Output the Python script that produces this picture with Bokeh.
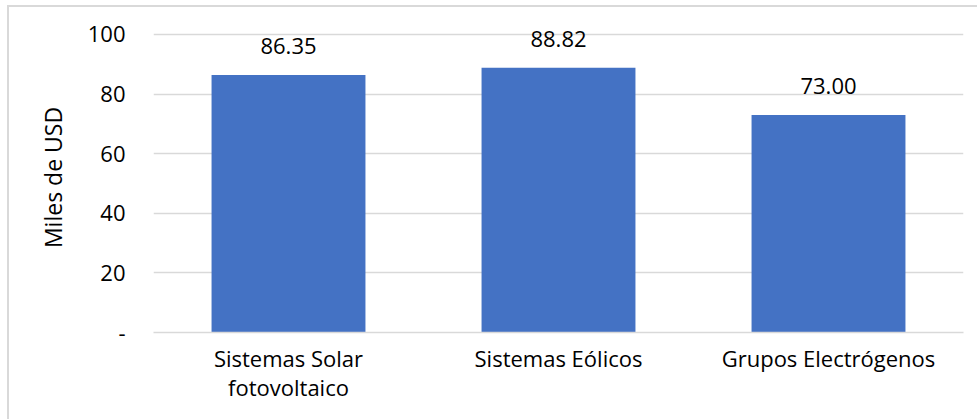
from bokeh.plotting import figure
from bokeh.models import ColumnDataSource, FixedTicker, Range1d
from bokeh.core.properties import value
from bokeh.embed import file_html
from bokeh.resources import INLINE

categories = ["Sistemas Solar\nfotovoltaico", "Sistemas Eólicos", "Grupos Electrógenos"]
values = [86.35, 88.82, 73.00]
labels = ["86.35", "88.82", "73.00"]
y_ticks = [0, 20, 40, 60, 80, 100]

FONT = "Open Sans"
FS = "22px"

src = ColumnDataSource(dict(cat=categories, val=values, lab=labels))

p = figure(x_range=categories, y_range=Range1d(0, 104), width=970, height=414,
           output_backend="svg", toolbar_location=None, tools="",
           min_border_left=144, min_border_right=16, min_border_top=15, min_border_bottom=89)
p.margin = (5, 0, 0, 7)
p.styles = {"border-top": "2px solid #d9d9d9", "border-left": "2px solid #d9d9d9", "box-sizing": "border-box"}
p.outline_line_color = None
p.background_fill_color = "white"
p.border_fill_color = "white"

p.vbar(x="cat", top="val", width=0.57, source=src, fill_color="#4472C4", line_color=None)
p.text(x="cat", y="val", text="lab", source=src, text_align="center", text_baseline="alphabetic",
       y_offset=-29, text_font=value(FONT), text_font_size=FS, text_color="#000000")

p.xgrid.grid_line_color = None
p.ygrid.grid_line_color = "#d9d9d9"
p.ygrid.grid_line_width = 1.5
p.yaxis.ticker = FixedTicker(ticks=y_ticks)
p.yaxis.major_label_overrides = {0: "-"}
p.yaxis.axis_line_color = None
p.yaxis.major_tick_line_color = None
p.yaxis.minor_tick_line_color = None
p.yaxis.major_label_standoff = 22
p.yaxis.axis_label = "Miles de USD"
p.yaxis.axis_label_standoff = 16
p.yaxis.axis_label_text_font = FONT
p.yaxis.axis_label_text_font_size = "23px"
p.yaxis.axis_label_text_font_style = "normal"
p.yaxis.axis_label_text_color = "#000000"
p.yaxis.major_label_text_font = FONT
p.yaxis.major_label_text_font_size = FS
p.yaxis.major_label_text_color = "#000000"

p.xaxis.axis_line_color = "#d9d9d9"
p.xaxis.axis_line_width = 1.5
p.xaxis.major_tick_line_color = None
p.xaxis.minor_tick_line_color = None
p.xaxis.major_label_standoff = 4
p.xaxis.major_label_text_font = FONT
p.xaxis.major_label_text_font_size = FS
p.xaxis.major_label_text_line_height = 0.97
p.xaxis.major_label_text_color = "#000000"
p.x_range.range_padding = 0

open("out.html", "w").write(file_html(p, INLINE))
